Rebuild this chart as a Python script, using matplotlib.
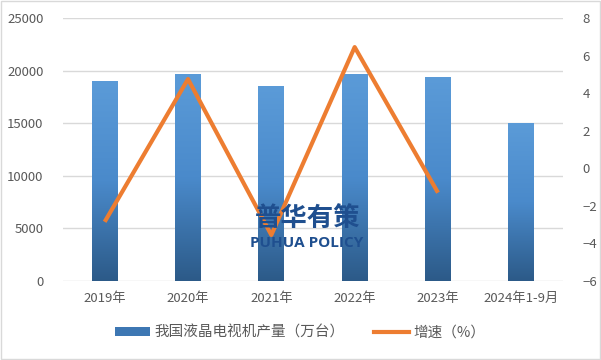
import numpy as np
import matplotlib
matplotlib.use("Agg")
import matplotlib.pyplot as plt
from matplotlib.colors import LinearSegmentedColormap
from matplotlib.patches import Patch, Rectangle
from matplotlib.lines import Line2D

plt.rcParams["font.family"] = ["Noto Sans CJK SC", "DejaVu Sans"]

# data
years = ["2019年", "2020年", "2021年", "2022年", "2023年", "2024年1-9月"]
output = [19000, 19600, 18450, 19600, 19300, 15000]   # 万台
growth = [-2.85, 4.75, -3.55, 6.45, -1.3]              # %, 2019-2023

bar_label = "我国液晶电视机产量（万台）"
line_label = "增速（%）"

fig = plt.figure(figsize=(6.01, 3.6), dpi=100)
ax = fig.add_axes([63 / 601, 1 - 281 / 360, 500 / 601, 263 / 360])
ax2 = ax.twinx()

# gradient bars: light blue on top, darker towards the bottom
cmap = LinearSegmentedColormap.from_list("barblue", ["#2c5a88", "#4a8acb", "#5b9bd8"])
grad = np.linspace(0, 1, 256).reshape(-1, 1)
x = np.arange(len(years))
width = 0.31
for xi, v in zip(x, output):
    ax.imshow(grad, extent=[xi - width / 2, xi + width / 2, 0, v], origin="lower",
              aspect="auto", cmap=cmap, zorder=2)

ax.set_xlim(-0.5, len(years) - 0.5)
ax.set_ylim(0, 25000)
ax.set_yticks(np.arange(0, 25001, 5000))
ax.set_xticks(x)
ax.set_xticklabels(years)
ax.grid(axis="y", color="#d9d9d9", linewidth=1, zorder=0)
ax.set_axisbelow(True)

ax2.plot(x[:len(growth)], growth, color="#ed7d31", linewidth=3, zorder=3,
         solid_capstyle="butt")
ax2.set_ylim(-6, 8)
ax2.set_yticks(np.arange(-6, 9, 2))

for a in (ax, ax2):
    for s in a.spines.values():
        s.set_visible(False)
    a.tick_params(length=0, colors="#595959", labelsize=9.5)
ax.tick_params(axis="y", pad=14)
ax.tick_params(axis="x", pad=8)
ax2.tick_params(axis="y", pad=14)

# watermark
fig.text(308 / 601, 1 - 218 / 360, "普华有策", fontsize=19, fontweight="bold",
         color="#1f4f8f", ha="center", va="center", zorder=10)
fig.text(307 / 601, 1 - 243 / 360, "PUHUA POLICY", fontsize=11, fontweight="bold",
         color="#1f4f8f", ha="center", va="center", zorder=10,
         family=["Open Sans", "DejaVu Sans"])

handles = [Patch(facecolor="#3d77b3", edgecolor="none", label=bar_label),
           Line2D([0], [0], color="#ed7d31", linewidth=3, label=line_label)]
fig.legend(handles=handles, loc="center", bbox_to_anchor=(0.5, 1 - 333 / 360),
           ncol=2, frameon=False, fontsize=10.5, labelcolor="#595959",
           handlelength=2.4, handleheight=0.55, handletextpad=0.3, columnspacing=2.0)

fig.patches.append(Rectangle((0.002, 0.003), 0.996, 0.994, transform=fig.transFigure,
                             fill=False, edgecolor="#d9d9d9", linewidth=1))

fig.savefig("out.png", dpi=100)
